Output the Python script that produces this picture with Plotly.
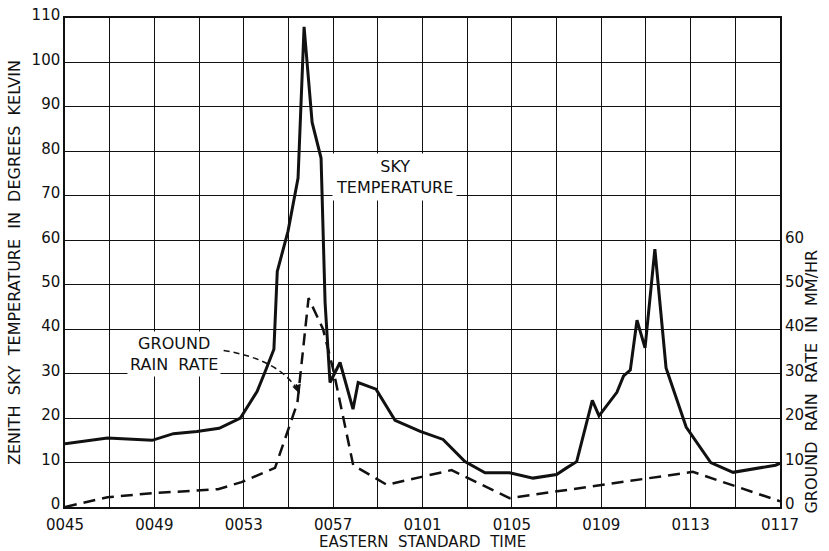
import plotly.graph_objects as go

# time in minutes after 0045 EST
sky_minutes = [0, 1.9, 3.9, 4.85, 5.9, 6.9, 7.85, 8.6, 9.0, 9.35, 9.5, 9.98, 10.43, 10.7,
               11.06, 11.46, 11.64, 11.86, 12.31, 12.89, 13.12, 13.92, 14.77, 15.9, 16.92,
               17.9, 18.8, 19.9, 20.95, 22.0, 22.45, 22.9, 23.6, 23.9, 24.7, 25.0, 25.3,
               25.6, 25.96, 26.4, 26.9, 27.8, 28.9, 29.9, 31.8, 32]
sky_temp = [14.2, 15.5, 15.0, 16.5, 17, 17.7, 20, 26, 31, 35.5, 53, 62, 74, 108,
            86.5, 78.5, 46, 28, 32.5, 22, 28, 26.5, 19.5, 17, 15.2,
            10.2, 7.7, 7.7, 6.5, 7.3, 8.8, 10.2, 24, 20.5, 25.8, 29.5, 30.8,
            42, 35.8, 58, 31.3, 18, 10, 7.8, 9.4, 9.8]

rain_minutes = [0, 1.9, 3.9, 6.85, 7.9, 9.4, 10.4, 10.9, 11.55, 12.0, 12.9, 14.4, 17.3, 19.9, 28.1, 32]
rain_rate = [0, 2.2, 3.1, 4.0, 5.6, 8.8, 23.4, 47, 40, 31, 9.4, 5.0, 8.3, 2.0, 7.9, 1.3]

x_grid = list(range(0, 33, 2))
x_labels = ['0045', '', '0049', '', '0053', '', '0057', '', '0101', '',
            '0105', '', '0109', '', '0113', '', '0117']
temp_ticks = list(range(0, 111, 10))
rain_ticks = list(range(0, 61, 10))

font = dict(family='DejaVu Sans', size=16, color='#111')
font_tick = dict(family='DejaVu Sans', size=15, color='#111')
sp = '\u00a0 '  # wider word gaps, like the stencil lettering

fig = go.Figure()
fig.add_trace(go.Scatter(x=sky_minutes, y=sky_temp, mode='lines',
                         line=dict(color='#111', width=3), showlegend=False))
fig.add_trace(go.Scatter(x=rain_minutes, y=rain_rate, mode='lines', yaxis='y2',
                         line=dict(color='#111', width=2.5, dash='12px,7px'), showlegend=False))

# labels
fig.add_annotation(x=14.73, y=74.2, text='SKY<br>TEMPERATURE', showarrow=False,
                   font=font, bgcolor='white', borderpad=3)
fig.add_annotation(x=4.88, y=34.4, text='GROUND<br>RAIN' + sp + 'RATE', showarrow=False,
                   font=font, bgcolor='white', borderpad=2)
# dashed curved pointer to the rain curve
fig.add_shape(type='path', path='M 7.1,35.2 Q 9.6,33.2 10.45,26.0', xref='x', yref='y',
              line=dict(color='#111', width=1.5, dash='6px,4px'))
fig.add_annotation(x=10.5, y=25.5, ax=-4, ay=-11, text='', showarrow=True,
                   arrowhead=2, arrowsize=1.2, arrowwidth=1.5, arrowcolor='#111')

# axis titles placed by hand
fig.add_annotation(x=1.06, xref='paper', y=28.3, yref='y',
                   text=sp.join(['GROUND', 'RAIN', 'RATE', 'IN', 'MM/HR']),
                   textangle=-90, showarrow=False, font=font)
fig.add_annotation(x=0.5, xref='paper', y=0, yref='paper', yshift=-35, yanchor='middle',
                   text=sp.join(['EASTERN', 'STANDARD', 'TIME']), showarrow=False, font=font_tick)

fig.update_layout(
    width=829, height=551,
    margin=dict(l=65, r=49, t=18, b=44),
    plot_bgcolor='white', paper_bgcolor='white',
    font=font,
    xaxis=dict(range=[0, 32], tickvals=x_grid, ticktext=x_labels, automargin=False,
               tickfont=font_tick,
               showgrid=True, gridcolor='#111', gridwidth=1.3,
               showline=True, linecolor='#111', linewidth=1.5, mirror=True,
               zeroline=False, ticks='', ticklabelstandoff=3),
    yaxis=dict(range=[0, 110], tickvals=temp_ticks, automargin=False,
               tickfont=font_tick, ticklabelshift=-3,
               showgrid=True, gridcolor='#111', gridwidth=1.3,
               showline=True, linecolor='#111', linewidth=1.5, mirror=True,
               zeroline=False, ticks='',
               title=dict(text=sp.join(['ZENITH', 'SKY', 'TEMPERATURE', 'IN', 'DEGREES', 'KELVIN']),
                          standoff=7, font=font)),
    yaxis2=dict(range=[0, 110], tickvals=rain_ticks, overlaying='y', side='right', automargin=False,
                tickfont=font_tick, ticklabelshift=-3,
                showgrid=False, zeroline=False, showline=False, ticks='', ticklabelstandoff=4),
)

# drop the default page margin so the figure sits at the window's corner
fig.write_html('out.html', config={'displayModeBar': False},
               post_script="document.body.style.margin='0';document.body.style.overflow='hidden';")
